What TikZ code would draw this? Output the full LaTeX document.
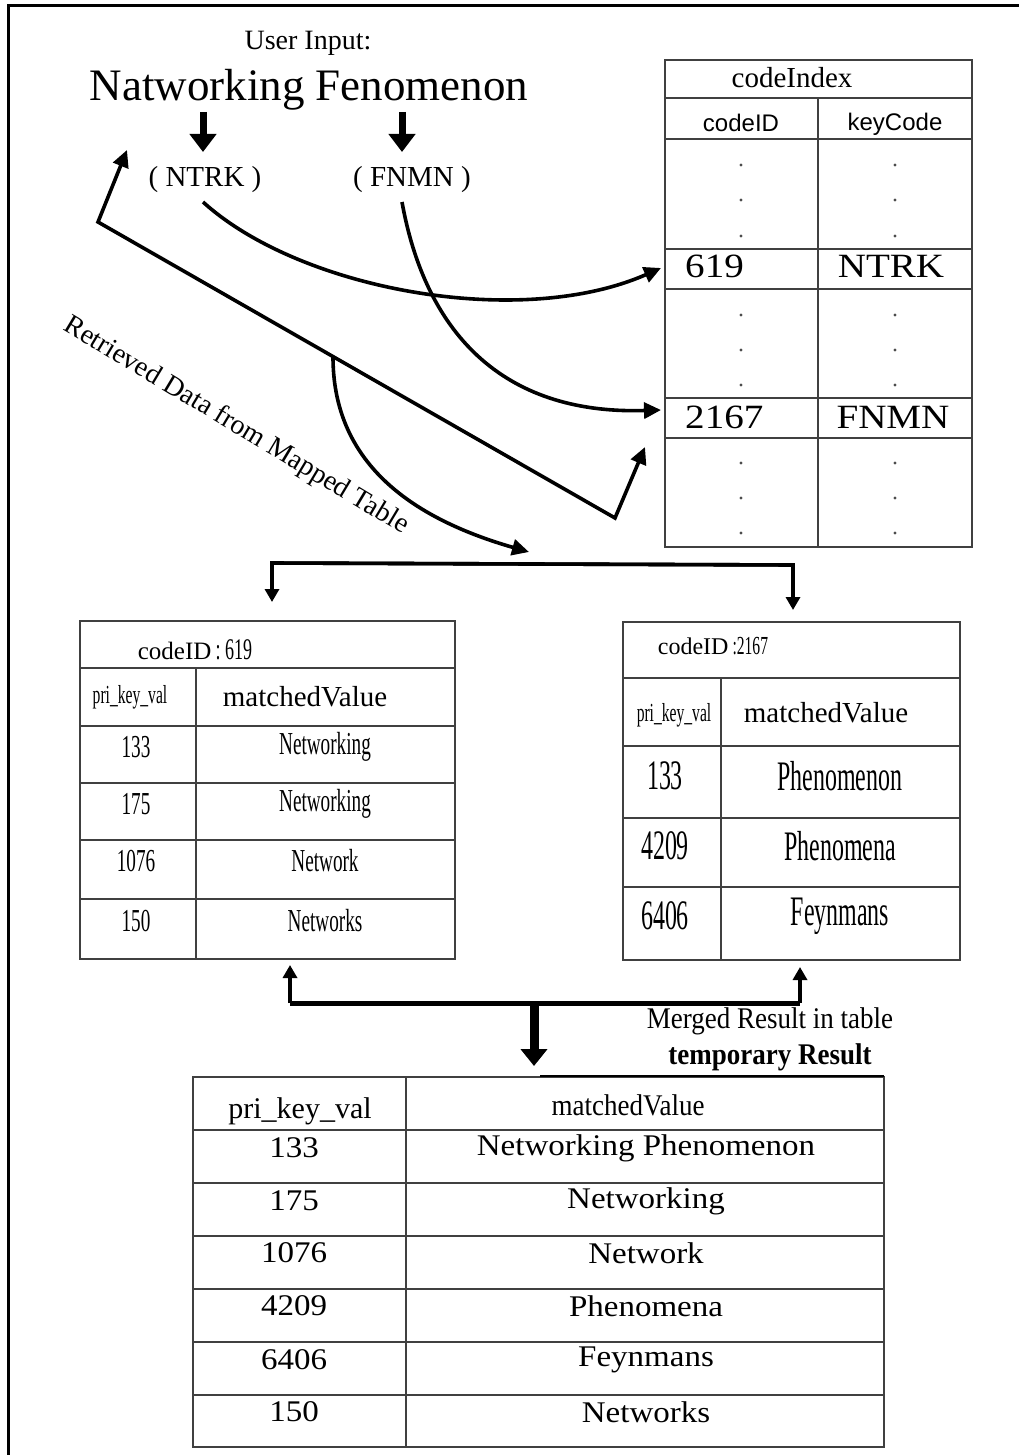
\documentclass[tikz,border=0pt]{standalone}
\usepackage{fontspec}
\setmainfont{Liberation Serif}
\newfontfamily\sansf{Liberation Sans}
\newfontfamily\condf[FakeStretch=0.6]{Liberation Serif}
\newfontfamily\condg[FakeStretch=0.57]{Liberation Serif}
\newfontfamily\condh[FakeStretch=0.9]{Liberation Serif}
\newfontfamily\widef[FakeStretch=1.15]{Liberation Serif}
\newfontfamily\wideg[FakeStretch=1.1]{Liberation Serif}
\usetikzlibrary{arrows.meta}
\tikzset{
  tbl/.style={draw=black!75, line width=1.4pt},
  arr/.style={line width=3.6pt, -{Triangle[length=17pt,width=16pt]}},
  biarr/.style={line width=3.6pt, {Triangle[length=17pt,width=16pt]}-{Triangle[length=17pt,width=16pt]}},
  downarr/.style={line width=7pt, -{Triangle[length=18pt,width=26pt]}},
  smallarr/.style={line width=3.6pt, -{Triangle[length=13pt,width=14pt]}},
  txt/.style={inner sep=0pt, anchor=center},
  dotc/.style={fill=black!70}
}
\newcommand{\fs}[1]{\fontsize{#1}{#1}\selectfont}
\begin{document}
\begin{tikzpicture}[x=1pt,y=-1pt]
\useasboundingbox (0,0) rectangle (1019,1455);
% page border (left and top)
\draw[line width=3pt] (8,1455) -- (8,6) -- (1019,6);

% ---------- user input ----------
\node[txt] (ui) at (308,43) {\fs{28}User Input:};
\node[txt] (nf) at (309,90) {\fs{45}Natworking Fenomenon};
\node[txt] (ntrk) at (205,180) {\fs{29}( NTRK )};
\node[txt] (fnmn) at (412,180) {\fs{29}( FNMN )};
\coordinate (nwA) at (203,112);
\coordinate (nwB) at (203,152);
\coordinate (fnA) at (402,112);
\coordinate (fnB) at (402,152);
\draw[downarr] (nwA) -- (nwB);
\draw[downarr] (fnA) -- (fnB);

% ---------- codeIndex table ----------
\draw[tbl] (665,60) rectangle (972,547);
\foreach \yy in {98,139,249,289,398,438} \draw[tbl] (665,\yy) -- (972,\yy);
\draw[tbl] (818,98) -- (818,547);
\node[txt] (ciT) at (792,78) {\fs{29}codeIndex};
\node[txt] (ciA) at (741,123) {\sansf\fs{24}codeID};
\node[txt] (ciB) at (895,124) {\sansf\fs{24}keyCode};
\node[txt, anchor=west] (r619) at (685,266) {\widef\fs{34}619};
\node[txt] (kNTRK) at (891,266) {\widef\fs{34}NTRK};
\node[txt, anchor=west] (r2167) at (685,417) {\widef\fs{34}2167};
\node[txt] (kFNMN) at (893,417) {\widef\fs{34}FNMN};
\foreach \yy in {165,200,236,315,350,385,463,498,533}{
  \fill[dotc] (741,\yy) circle (1.7);
  \fill[dotc] (895,\yy) circle (1.7);
}
\coordinate (ci619) at (661,268);
\coordinate (ci2167) at (661,410);
\coordinate (ciBack) at (645,447);

% ---------- mapping arrows ----------
\coordinate (ntrkOut) at (203,202);
\coordinate (fnmnOut) at (402,202);
\draw[arr] (ntrkOut) .. controls (300,290) and (520,330) .. (ci619);
\draw[arr] (fnmnOut) .. controls (425,330) and (500,415) .. (ci2167);
\coordinate (retTop) at (127,150);
\coordinate (retA) at (98,222);
\coordinate (retB) at (615,518);
\draw[biarr] (retTop) -- (retA) -- (retB) -- (ciBack);
\node[txt, rotate=-31] (retLbl) at (236,426) {\fs{28}Retrieved Data from Mapped Table};
\coordinate (brA) at (333,357);
\coordinate (brB) at (529,552);
\draw[arr] (brA) .. controls (333,455) and (400,515) .. (brB);

% distribution to the two tables
\coordinate (dL) at (272,563);
\coordinate (dR) at (793,565);
\coordinate (dLt) at (272,602);
\coordinate (dRt) at (793,610);
\draw[smallarr] (dR) -- (dL) -- (dLt);
\draw[smallarr] (dL) -- (dR) -- (dRt);

% ---------- left table codeID 619 ----------
\draw[tbl] (80,621) rectangle (455,959);
\foreach \yy in {668,726,783,840,899} \draw[tbl] (80,\yy) -- (455,\yy);
\draw[tbl] (196,668) -- (196,959);
\node[txt] (lH) at (195,650) {\fs{25}codeID\,{\condf\fs{30}: 619}};
\node[txt] (lA) at (130,697) {\condf\fs{26}pri\_key\_val};
\node[txt] (lB) at (305,697) {\fs{29}matchedValue};
\node[txt] (l1a) at (136,747) {\condf\fs{32}133};
\node[txt] (l1b) at (325,747) {\condf\fs{32}Networking};
\node[txt] (l2a) at (136,804) {\condf\fs{32}175};
\node[txt] (l2b) at (325,804) {\condf\fs{32}Networking};
\node[txt] (l3a) at (136,861) {\condf\fs{32}1076};
\node[txt] (l3b) at (325,861) {\condf\fs{32}Network};
\node[txt] (l4a) at (136,921) {\condf\fs{32}150};
\node[txt] (l4b) at (325,921) {\condf\fs{32}Networks};

% ---------- right table codeID 2167 ----------
\draw[tbl] (623,622) rectangle (960,960);
\foreach \yy in {678,746,818,887} \draw[tbl] (623,\yy) -- (960,\yy);
\draw[tbl] (721,678) -- (721,960);
\node[txt] (rH) at (713,646) {\fs{24}codeID\,{\condf\fs{26}:2167}};
\node[txt] (rA) at (674,715) {\condf\fs{26}pri\_key\_val};
\node[txt] (rB) at (826,713) {\fs{29}matchedValue};
\node[txt] (r1a) at (665,776) {\condg\fs{42}133};
\node[txt] (r1b) at (840,776) {\condg\fs{42}Phenomenon};
\node[txt] (r2a) at (665,846) {\condg\fs{42}4209};
\node[txt] (r2b) at (840,846) {\condg\fs{42}Phenomena};
\node[txt] (r3a) at (665,916) {\condg\fs{42}6406};
\node[txt] (r3b) at (840,916) {\condg\fs{42}Feynmans};

% ---------- merge arrows ----------
\coordinate (mL) at (290,1003);
\coordinate (mR) at (800,1003);
\coordinate (mC) at (534,1003);
\coordinate (mLt) at (290,965);
\coordinate (mRt) at (800,967);
\coordinate (mCt) at (534,1066);
\draw[line width=5pt] (mL) -- (mR);
\draw[smallarr, line width=4.5pt] (mL) -- (mLt);
\draw[smallarr, line width=4.5pt] (mR) -- (mRt);
\draw[line width=9pt, -{Triangle[length=17pt,width=26pt]}] (mC) -- (mCt);
\node[txt] (mg1) at (770,1021) {\condh\fs{30}Merged Result in table};
\node[txt] (mg2) at (770,1057) {\condh\fs{30}\bfseries temporary Result};

% ---------- bottom table ----------
\draw[tbl] (193,1077) rectangle (884,1447);
\draw[line width=2.5pt] (540,1076) -- (884,1076);
\foreach \yy in {1130,1183,1236,1289,1342,1395} \draw[tbl] (193,\yy) -- (884,\yy);
\draw[tbl] (406,1077) -- (406,1447);
\node[txt] (bA) at (300,1111) {\fs{30}pri\_key\_val};
\node[txt] (bB) at (628,1105) {\condh\fs{30}matchedValue};
\node[txt] (b1a) at (294,1148) {\wideg\fs{30}133};
\node[txt] (b1b) at (646,1148) {\wideg\fs{30}Networking Phenomenon};
\node[txt] (b2a) at (294,1201) {\wideg\fs{30}175};
\node[txt] (b2b) at (646,1201) {\wideg\fs{30}Networking};
\node[txt] (b3a) at (294,1253) {\wideg\fs{30}1076};
\node[txt] (b3b) at (646,1253) {\wideg\fs{30}Network};
\node[txt] (b4a) at (294,1306) {\wideg\fs{30}4209};
\node[txt] (b4b) at (646,1306) {\wideg\fs{30}Phenomena};
\node[txt] (b5a) at (294,1360) {\wideg\fs{30}6406};
\node[txt] (b5b) at (646,1360) {\wideg\fs{30}Feynmans};
\node[txt] (b6a) at (294,1412) {\wideg\fs{30}150};
\node[txt] (b6b) at (646,1412) {\wideg\fs{30}Networks};
\end{tikzpicture}
\end{document}
